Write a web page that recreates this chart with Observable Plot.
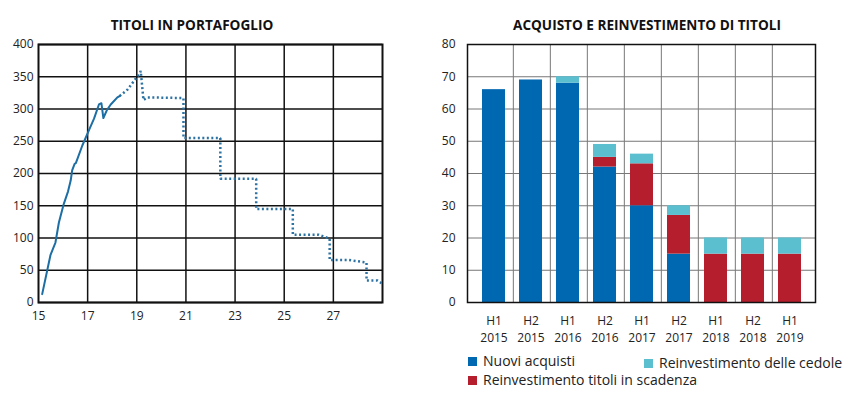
<!DOCTYPE html>
<html><head><meta charset="utf-8">
<script src="https://cdn.jsdelivr.net/npm/d3@7"></script>
<script src="https://cdn.jsdelivr.net/npm/@observablehq/plot@0.6"></script>
<style>
body{margin:0;background:#fff;font-family:"Open Sans",sans-serif;}
#wrap{position:relative;width:849px;height:395px;overflow:hidden;}
.title{position:absolute;top:15px;font-weight:bold;font-size:13.6px;color:#111;text-align:center;white-space:nowrap;}
.leg{position:absolute;font-size:14px;color:#222;white-space:nowrap;line-height:18px;}
.sw{display:inline-block;width:9px;height:9px;margin-right:6px;vertical-align:0px;}
#left{position:absolute;left:0;top:0;}
#right{position:absolute;left:400px;top:0;}
svg text{font-family:"Open Sans",sans-serif;}
</style></head>
<body><div id="wrap">
<div class="title" style="left:0;width:384px;">TITOLI IN PORTAFOGLIO</div>
<div class="title" style="left:467px;width:360px;">ACQUISTO E REINVESTIMENTO DI TITOLI</div>
<div id="left"></div><div id="right"></div>
<div class="leg" style="left:468px;top:352px;"><span class="sw" style="background:#0068b0"></span>Nuovi acquisti</div>
<div class="leg" style="left:644px;top:354px;"><span class="sw" style="background:#5bbfd0"></span>Reinvestimento delle cedole</div>
<div class="leg" style="left:468px;top:371px;"><span class="sw" style="background:#b51f2d"></span>Reinvestimento titoli in scadenza</div>
</div>
<script>
// Left chart: securities in portfolio (solid = actual, dotted = projection)
const solidX = [15.15,15.49,15.69,15.83,16.03,16.2,16.31,16.37,16.47,16.52,16.78,17.05,17.26,17.46,17.56,17.64,17.78,17.94,18.21,18.3];
const solidY = [13,74,93,124,153,172,189,205,215,216,243,267,285,307,309,286,298,307,318,320];
const dotX = [18.3,18.62,19.13,19.16,19.27,19.43,20.9,20.9,22.4,22.4,23.86,23.86,25.35,25.35,26.4,26.85,26.85,27.6,28.35,28.35,28.8,29];
const dotY = [320,330,356,359,314,318,317,255,255,192,192,145,145,105,105,99,66,66,62,34,34,29];
const leftYTicks = [0,50,100,150,200,250,300,350,400];
const leftXTicks = [15,17,19,21,23,25,27];
const leftXGrid = [17,19,21,23,25,27];

// Right chart: purchases and reinvestments
const periods = ["H1 2015","H2 2015","H1 2016","H2 2016","H1 2017","H2 2017","H1 2018","H2 2018","H1 2019"];
const nuoviAcquisti = [66,69,68,42,30,15,0,0,0];
const reinvScadenza = [0,0,0,3,13,12,15,15,15];
const reinvCedole = [0,0,2,4,3,3,5,5,5];
const seriesNames = ["Nuovi acquisti","Reinvestimento titoli in scadenza","Reinvestimento delle cedole"];
const seriesColors = ["#0068b0","#b51f2d","#5bbfd0"];
const rightYTicks = [0,10,20,30,40,50,60,70,80];

const solid = solidX.map((x,i)=>({x,y:solidY[i]}));
const dotted = dotX.map((x,i)=>({x,y:dotY[i]}));
const axisStyle = {fontFamily:"Open Sans", fontSize:"12px", color:"#222", background:"transparent", overflow:"visible"};

const left = Plot.plot({
  width:400, height:335, marginLeft:38, marginRight:18, marginTop:44, marginBottom:33,
  style: axisStyle,
  x:{domain:[15,29], label:null}, y:{domain:[0,400], label:null},
  marks:[
    Plot.gridX(leftXGrid,{stroke:"#111",strokeOpacity:1,strokeWidth:1.5}),
    Plot.gridY(leftYTicks,{stroke:"#111",strokeOpacity:1,strokeWidth:1.5}),
    Plot.axisX(leftXTicks,{tickSize:0,tickPadding:9,fill:"#222",label:null}),
    Plot.axisY(leftYTicks,{tickSize:0,tickPadding:5,fill:"#222",label:null}),
    Plot.frame({stroke:"#111",strokeWidth:2}),
    Plot.line(dotted,{x:"x",y:"y",stroke:"#2c72a3",strokeWidth:2.5,strokeDasharray:"2,2.5",strokeLinecap:"butt",strokeLinejoin:"miter"}),
    Plot.line(solid,{x:"x",y:"y",stroke:"#1c6ea4",strokeWidth:2})
  ]
});
document.getElementById("left").append(left);

const rows = [];
periods.forEach((p,i)=>{
  rows.push({p,s:seriesNames[0],v:nuoviAcquisti[i]});
  rows.push({p,s:seriesNames[1],v:reinvScadenza[i]});
  rows.push({p,s:seriesNames[2],v:reinvCedole[i]});
});
const bw = (449-67-34)/periods.length;
const right = Plot.plot({
  width:449, height:348, marginLeft:67, marginRight:34, marginTop:44, marginBottom:46,
  style: axisStyle,
  x:{domain:periods, padding:0.38, label:null},
  y:{domain:[0,80], label:null},
  color:{domain:seriesNames, range:seriesColors},
  marks:[
    Plot.gridY(rightYTicks,{stroke:"#777",strokeOpacity:1,strokeWidth:1}),
    Plot.ruleX(periods.slice(0,-1),{x:d=>d,dx:bw/2,stroke:"#777",strokeWidth:1}),
    Plot.barY(rows,{x:"p",y:"v",fill:"s",order:seriesNames}),
    Plot.axisX({tickSize:0,tickPadding:11,lineHeight:1.4,fill:"#222",label:null,tickFormat:d=>d.replace(" ","\n")}),
    Plot.axisY(rightYTicks,{tickSize:0,tickPadding:12,fill:"#222",label:null}),
    Plot.frame({stroke:"#111",strokeWidth:1.5})
  ]
});
document.getElementById("right").append(right);
</script>
</body></html>
